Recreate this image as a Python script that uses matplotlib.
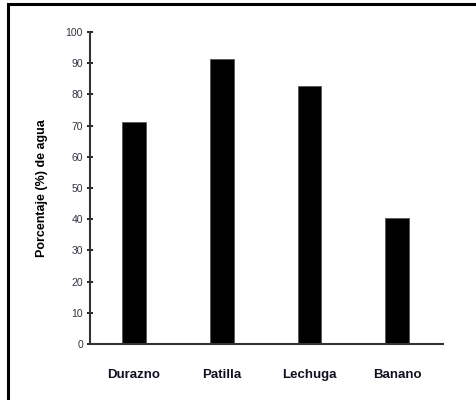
import matplotlib.pyplot as plt
from matplotlib.patches import Rectangle

# Datos
alimentos = ['Durazno', 'Patilla', 'Lechuga', 'Banano']
agua = [71, 91.3, 82.7, 40.4]
yticks = [0, 10, 20, 30, 40, 50, 60, 70, 80, 90, 100]

narrow = ['Liberation Sans Narrow', 'Liberation Sans', 'DejaVu Sans']

fig = plt.figure(figsize=(4.76, 4.0), dpi=100)
# marco exterior (solo bordes izquierdo y superior visibles)
fig.patches.append(Rectangle((8 / 476, -0.1), 1.2, (400 - 4) / 400 + 0.1,
                             transform=fig.transFigure, fill=False,
                             edgecolor='black', linewidth=2.2))

ax = fig.add_axes([90 / 476, 1 - 344 / 400, (443 - 90) / 476, (344 - 32) / 400])
x = range(len(alimentos))
ax.bar(x, agua, width=0.27, color='black', edgecolor='#555555', linewidth=0.6)

ax.set_xlim(-0.5, 3.52)
ax.set_ylim(0, 100)
ax.set_yticks(yticks)
ax.set_yticklabels([str(t) for t in yticks], fontsize=7.5, family=narrow, color='#333344')
ax.set_xticks(list(x))
ax.set_xticklabels(alimentos, fontsize=9.5, fontweight='bold', family=narrow, color='#111122')
ax.tick_params(axis='x', length=0, pad=18)
ax.tick_params(axis='y', length=4, width=1.2, direction='inout', pad=3)

ax.spines['top'].set_visible(False)
ax.spines['right'].set_visible(False)
ax.spines['left'].set_linewidth(1.5)
ax.spines['bottom'].set_linewidth(1.5)
ax.spines['left'].set_color('#333333')
ax.spines['bottom'].set_color('#333333')

ax.set_ylabel('Porcentaje (%) de agua', fontsize=9, fontweight='bold', family=narrow)
ax.yaxis.set_label_coords(-0.12, 0.5)

fig.savefig('out.png', dpi=100)
